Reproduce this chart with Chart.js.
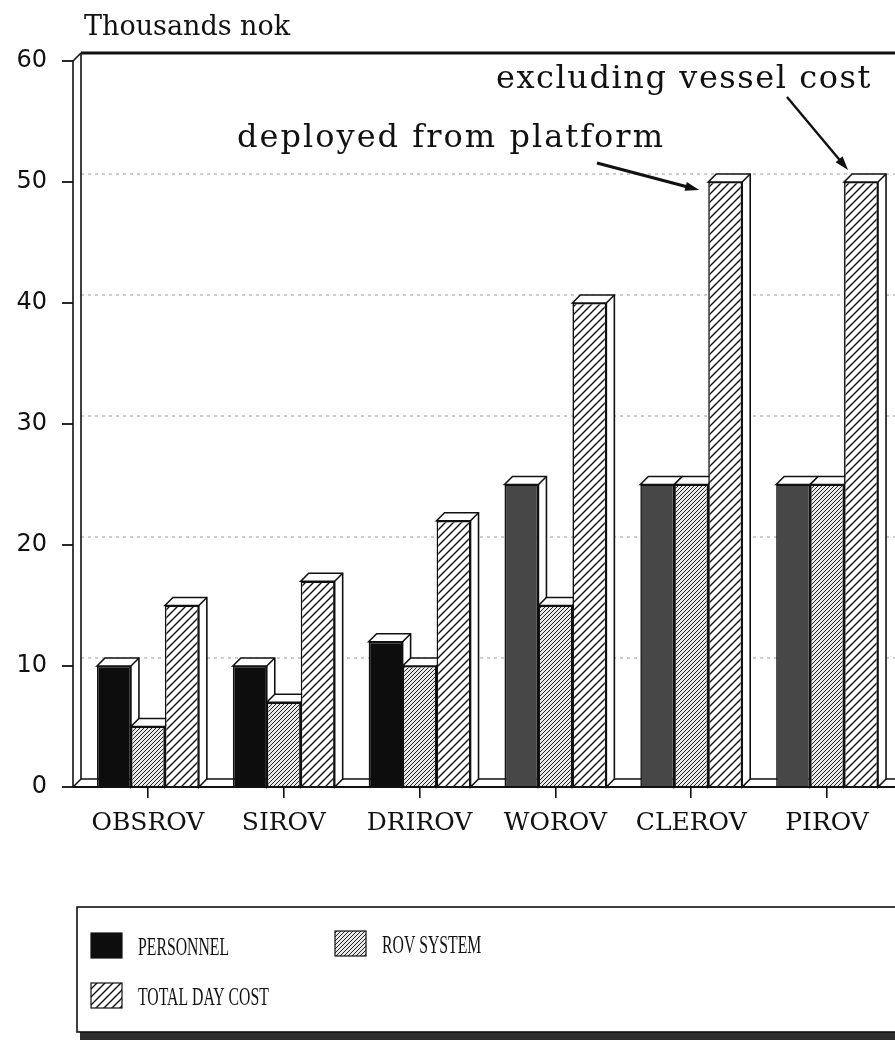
<!DOCTYPE html>
<html>
<head>
<meta charset="utf-8">
<title>ROV day cost</title>
<script src="https://cdn.jsdelivr.net/npm/chart.js@4.4.1/dist/chart.umd.min.js"></script>
<style>
  body { margin: 0; background: #fff; }
  canvas { display: block; }
</style>
</head>
<body>
<canvas id="costChart" width="895" height="1040"></canvas>
<script>
const categories = ['OBSROV', 'SIROV', 'DRIROV', 'WOROV', 'CLEROV', 'PIROV'];
const personnel = [10, 10, 12, 25, 25, 25];
const rovSystem = [5, 7, 10, 15, 25, 25];
const totalDayCost = [15, 17, 22, 40, 50, 50];
const seriesNames = ['PERSONNEL', 'ROV SYSTEM', 'TOTAL DAY COST'];
const yTicks = [0, 10, 20, 30, 40, 50, 60];
const unitLabel = 'Thousands nok';
const notePlatform = 'deployed from platform';
const noteVessel = 'excluding vessel cost';

const DEPTH = 8;
const canvas = document.getElementById('costChart');
const mainCtx = canvas.getContext('2d');

// diagonal "/" hatch as a repeating pattern
function hatch(size, lineWidth, ink, paper) {
  const c = document.createElement('canvas');
  c.width = size; c.height = size;
  const g = c.getContext('2d');
  g.fillStyle = paper;
  g.fillRect(0, 0, size, size);
  g.strokeStyle = ink;
  g.lineWidth = lineWidth;
  g.beginPath();
  g.moveTo(-1, size + 1); g.lineTo(size + 1, -1);
  g.moveTo(-1, 1); g.lineTo(1, -1);
  g.moveTo(size - 1, size + 1); g.lineTo(size + 1, size - 1);
  g.stroke();
  return mainCtx.createPattern(c, 'repeat');
}

const rovPattern = hatch(4, 1, '#262626', '#e8e8e8');
const totalPattern = hatch(8, 1.4, '#111', '#ffffff');
const personnelColors = ['#0d0d0d', '#0d0d0d', '#0d0d0d', '#474747', '#474747', '#474747'];
const swatches = ['#0d0d0d', rovPattern, totalPattern];

function line(ctx, x1, y1, x2, y2) {
  ctx.beginPath();
  ctx.moveTo(x1, y1);
  ctx.lineTo(x2, y2);
  ctx.stroke();
}

function arrow(ctx, x1, y1, x2, y2, w) {
  const ang = Math.atan2(y2 - y1, x2 - x1);
  const len = 14;
  ctx.lineWidth = w;
  line(ctx, x1, y1, x2 - Math.cos(ang) * len * 0.7, y2 - Math.sin(ang) * len * 0.7);
  ctx.beginPath();
  ctx.moveTo(x2, y2);
  ctx.lineTo(x2 - len * Math.cos(ang) + 4.5 * Math.sin(ang), y2 - len * Math.sin(ang) - 4.5 * Math.cos(ang));
  ctx.lineTo(x2 - len * Math.cos(ang) - 4.5 * Math.sin(ang), y2 - len * Math.sin(ang) + 4.5 * Math.cos(ang));
  ctx.closePath();
  ctx.fill();
}

// text stretched with letter spacing to a given width (typewriter look)
function spacedText(ctx, text, x, baseline, width) {
  ctx.letterSpacing = '0px';
  const natural = ctx.measureText(text).width;
  ctx.letterSpacing = Math.max(0, (width - natural) / text.length) + 'px';
  ctx.fillText(text, x, baseline);
  ctx.letterSpacing = '0px';
}

function barBox(chart, ds, i) {
  const bar = chart.getDatasetMeta(ds).data[i];
  const p = bar.getProps(['x', 'y', 'width', 'base'], true);
  return { left: p.x - p.width / 2, right: p.x + p.width / 2, top: p.y, base: p.base };
}

const box3d = {
  id: 'box3d',
  beforeDatasetsDraw(chart) {
    const { ctx, chartArea: a, scales: { y } } = chart;
    const fx = a.left - 7, bx = fx + DEPTH;
    const y0 = y.getPixelForValue(0), yTop = y.getPixelForValue(60);
    ctx.save();

    // dotted gridlines on the back wall
    ctx.strokeStyle = '#9a9a9a';
    ctx.lineWidth = 1;
    ctx.setLineDash([3, 4]);
    yTicks.slice(1, -1).forEach(v => {
      const py = y.getPixelForValue(v) - DEPTH;
      line(ctx, bx, py, a.right, py);
    });
    ctx.setLineDash([]);

    // walls and floor
    ctx.strokeStyle = '#111';
    ctx.lineWidth = 1.6;
    line(ctx, fx, yTop, fx, y0);
    line(ctx, bx, yTop - DEPTH, bx, y0 - DEPTH);
    line(ctx, fx, yTop, bx, yTop - DEPTH);
    line(ctx, fx, y0, bx, y0 - DEPTH);
    line(ctx, bx, y0 - DEPTH, a.right, y0 - DEPTH);
    ctx.lineWidth = 3;
    line(ctx, bx, yTop - DEPTH, a.right, yTop - DEPTH);
    ctx.lineWidth = 1.8;
    yTicks.forEach(v => {
      const py = y.getPixelForValue(v);
      line(ctx, fx - 11, py, fx, py);
    });

    // top and side faces, left to right so each bar hides its neighbour's side
    ctx.fillStyle = '#fff';
    ctx.lineWidth = 1.6;
    for (let i = 0; i < categories.length; i++) {
      for (let ds = 0; ds < 3; ds++) {
        const b = barBox(chart, ds, i);
        ctx.beginPath();
        ctx.moveTo(b.left, b.top);
        ctx.lineTo(b.left + DEPTH, b.top - DEPTH);
        ctx.lineTo(b.right + DEPTH, b.top - DEPTH);
        ctx.lineTo(b.right + DEPTH, b.base - DEPTH);
        ctx.lineTo(b.right, b.base);
        ctx.lineTo(b.right, b.top);
        ctx.closePath();
        ctx.fill();
        ctx.stroke();
        line(ctx, b.right, b.top, b.right + DEPTH, b.top - DEPTH);
      }
    }
    ctx.restore();
  },
  afterDatasetsDraw(chart) {
    const { ctx, chartArea: a, scales: { y } } = chart;
    const y0 = y.getPixelForValue(0);
    ctx.save();
    ctx.strokeStyle = '#111';
    ctx.lineWidth = 2;
    line(ctx, a.left - 7, y0, a.right, y0);
    ctx.restore();
  },
  afterDraw(chart) {
    const { ctx } = chart;
    ctx.save();
    ctx.fillStyle = '#111';
    ctx.strokeStyle = '#111';

    // unit label
    ctx.font = '27px "DejaVu Serif"';
    ctx.textBaseline = 'alphabetic';
    ctx.textAlign = 'left';
    spacedText(ctx, unitLabel, 84, 35, 203);

    // annotations
    ctx.font = '32px "DejaVu Serif"';
    spacedText(ctx, noteVessel, 496, 88, 376);
    spacedText(ctx, notePlatform, 237, 147, 428);
    const cl = barBox(chart, 2, 4), pi = barBox(chart, 2, 5);
    arrow(ctx, 597, 163, cl.left - 9, cl.top + 8, 3.2);
    arrow(ctx, 787, 97, pi.left + 4, pi.top - 12, 2.4);

    // legend frame with shadow
    ctx.fillStyle = '#2e2e2e';
    ctx.fillRect(80, 1032, 815, 8);
    ctx.fillStyle = '#fff';
    ctx.fillRect(77, 907, 818, 125);
    ctx.lineWidth = 1.6;
    ctx.strokeRect(77, 907, 830, 125);

    const items = [
      { x: 91, y: 933 },
      { x: 335, y: 931 },
      { x: 91, y: 983 }
    ];
    ctx.font = '25px "Liberation Serif"';
    ctx.textBaseline = 'middle';
    items.forEach((it, k) => {
      ctx.fillStyle = swatches[k];
      ctx.fillRect(it.x, it.y, 31, 25);
      ctx.lineWidth = 1.2;
      ctx.strokeRect(it.x, it.y, 31, 25);
      ctx.fillStyle = '#111';
      ctx.save();
      ctx.translate(it.x + 47, it.y + 15);
      ctx.scale(0.63, 1);
      ctx.fillText(seriesNames[k], 0, 0);
      ctx.restore();
    });
    ctx.restore();
  }
};

new Chart(canvas, {
  type: 'bar',
  data: {
    labels: categories,
    datasets: [
      { label: seriesNames[0], data: personnel, backgroundColor: personnelColors },
      { label: seriesNames[1], data: rovSystem, backgroundColor: rovPattern },
      { label: seriesNames[2], data: totalDayCost, backgroundColor: totalPattern }
    ]
  },
  options: {
    responsive: false,
    animation: false,
    layout: { padding: { top: 61, right: 0, bottom: 0, left: 0 } },
    datasets: {
      bar: {
        borderColor: '#111',
        borderWidth: 1.6,
        borderSkipped: 'start',
        categoryPercentage: 0.75,
        barPercentage: 1
      }
    },
    plugins: {
      legend: { display: false },
      tooltip: { enabled: false }
    },
    scales: {
      x: {
        afterFit: s => { s.height = 253; },
        border: { display: false },
        grid: { display: true, drawOnChartArea: false, offset: false, tickLength: 11, color: '#111', lineWidth: 1.6 },
        ticks: { color: '#111', padding: 10, font: { family: 'DejaVu Serif', size: 25 } }
      },
      y: {
        min: 0,
        max: 60,
        afterFit: s => { s.width = 80; },
        afterBuildTicks: s => { s.ticks = yTicks.map(v => ({ value: v })); },
        border: { display: false },
        grid: { display: false, drawTicks: false },
        ticks: { color: '#111', padding: 33, font: { family: 'DejaVu Sans', size: 24 } }
      }
    }
  },
  plugins: [box3d]
});
</script>
</body>
</html>
